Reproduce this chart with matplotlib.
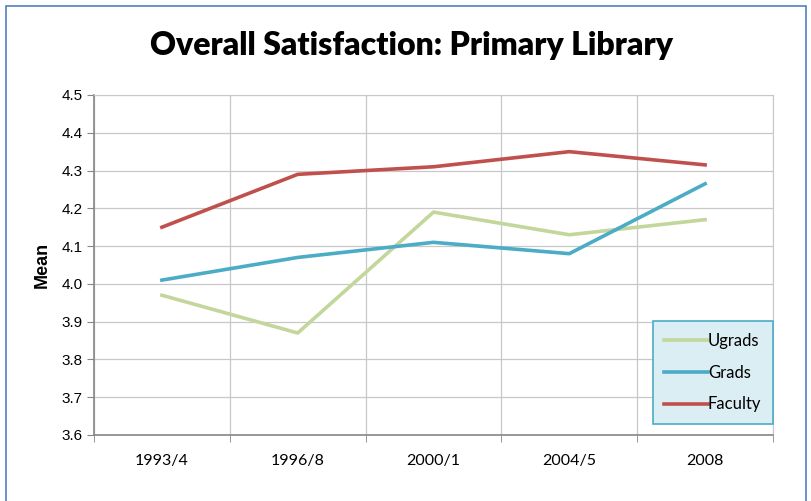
import matplotlib.pyplot as plt
from matplotlib.patches import Rectangle

periods = ['1993/4', '1996/8', '2000/1', '2004/5', '2008']
ugrads = [3.97, 3.87, 4.19, 4.13, 4.17]
grads = [4.01, 4.07, 4.11, 4.08, 4.265]
faculty = [4.15, 4.29, 4.31, 4.35, 4.315]

W, H = 812, 501
fig = plt.figure(figsize=(W / 100, H / 100), dpi=100)

# outer chart frame
fig.patches.append(Rectangle((6 / W, -0.05), 800 / W, 1 - 6 / H + 0.05,
                             transform=fig.transFigure, fill=False,
                             edgecolor='#4f81bd', linewidth=1.2))

ax = fig.add_axes([94 / W, 1 - 435 / H, 679 / W, 340 / H])
x = list(range(len(periods)))

ax.plot(x, ugrads, color='#c3d69b', lw=2.6, label='Ugrads')
ax.plot(x, grads, color='#4bacc6', lw=2.6, label='Grads')
ax.plot(x, faculty, color='#c0504d', lw=2.6, label='Faculty')

ax.set_xlim(-0.5, 4.5)
ax.set_ylim(3.6, 4.5)
ax.set_yticks([3.6 + 0.1 * i for i in range(10)])
ax.set_yticklabels([f'{3.6 + 0.1 * i:.1f}' for i in range(10)],
                   fontsize=11, family='Liberation Sans')
ax.set_xticks(x)
ax.set_xticklabels(periods, fontsize=11.5, family='Lato')
ax.set_xticks([-0.5 + i for i in range(6)], minor=True)

ax.grid(True, axis='y', color='#c8c8c8', lw=0.9)
ax.grid(True, axis='x', which='minor', color='#c8c8c8', lw=0.9)
ax.set_axisbelow(True)
ax.tick_params(axis='x', which='major', length=0, pad=14)
ax.tick_params(axis='x', which='minor', length=5, color='#868686')
ax.tick_params(axis='y', length=5, color='#868686', pad=3)
for side in ['top', 'right']:
    ax.spines[side].set_color('#c8c8c8')
for side in ['left', 'bottom']:
    ax.spines[side].set_color('#868686')
    ax.spines[side].set_linewidth(1.2)

ax.set_ylabel('Mean', fontsize=13, fontweight='bold',
              family='Liberation Sans', labelpad=8)

fig.text(412 / W, 1 - 46 / H, 'Overall Satisfaction: Primary Library',
         ha='center', va='center', fontsize=23, fontweight='heavy',
         family='Lato')

leg = ax.legend(loc='lower right', bbox_to_anchor=(1.0, 0.032),
                borderaxespad=0,
                prop={'family': 'Lato', 'size': 12},
                frameon=True, fancybox=False, handlelength=2.6,
                handletextpad=0.0, labelspacing=0.95, borderpad=0.7)
leg.get_frame().set_facecolor('#dbeef4')
leg.get_frame().set_edgecolor('#4bacc6')
leg.get_frame().set_linewidth(1.2)
leg.get_frame().set_alpha(1)

fig.savefig('out.png', dpi=100)
